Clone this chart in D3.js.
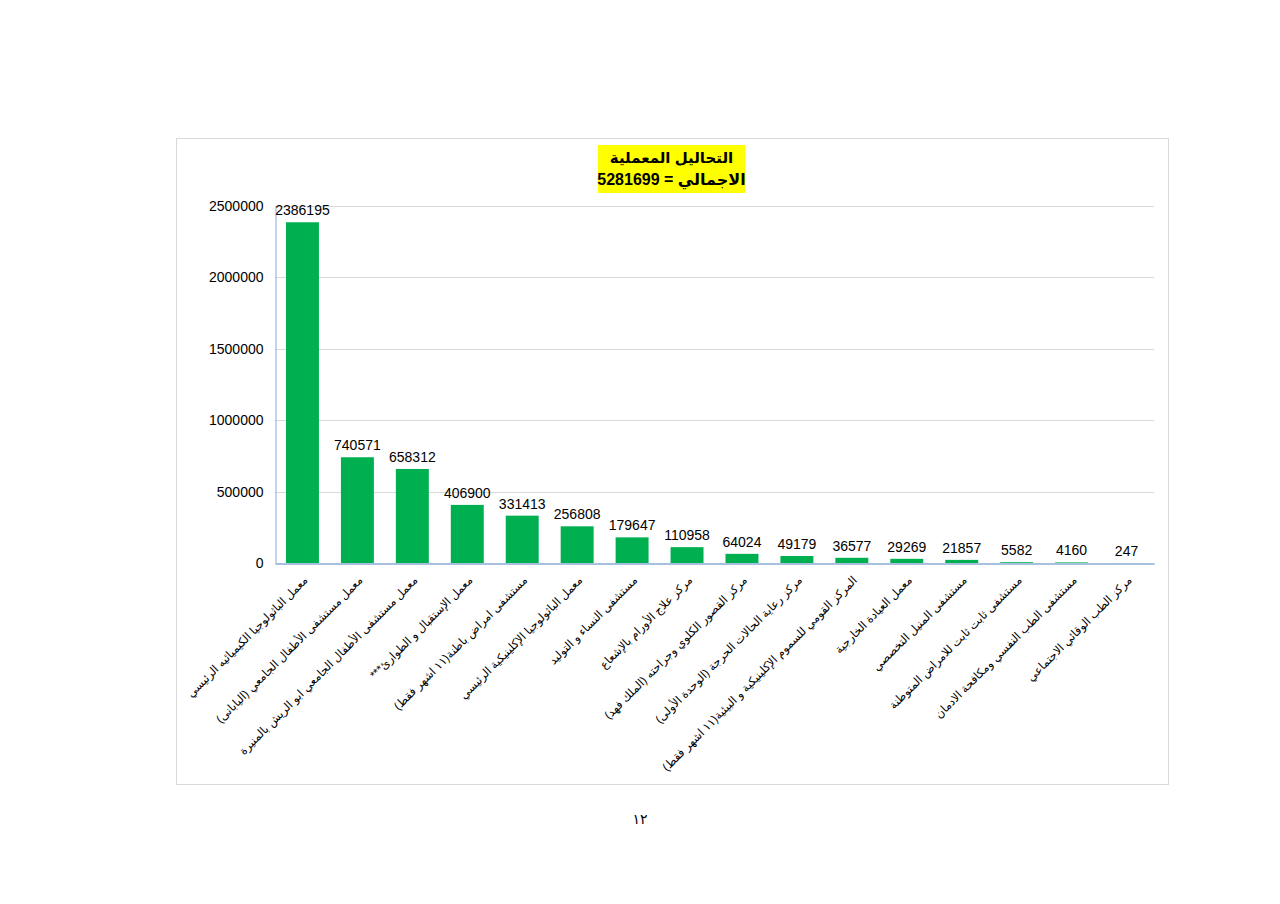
<!DOCTYPE html>
<html><head><meta charset="utf-8">
<script src="https://cdn.jsdelivr.net/npm/d3@7"></script>
<style>body{margin:0;background:#fff}</style>
</head><body>
<svg id="c" width="1280" height="904"></svg>
<script>
const categories = [
 "معمل الباثولوجيا الكيميائيه الرئيسي",
 "معمل مستشفى الأطفال الجامعي (اليابانى)",
 "معمل مستشفى الأطفال الجامعي ابو الريش بالمنيرة",
 "معمل الإستقبال و الطوارئ***",
 "مستشفى امراض باطنة(١١ اشهر فقط)",
 "معمل الباثولوجيا الإكلينيكية الرئيسي",
 "مستشفى النساء و التوليد",
 "مركز علاج الأورام بالإشعاع",
 "مركز القصور الكلوي وجراحته (الملك فهد)",
 "مركز رعاية الحالات الحرجة (الوحدة الأولى)",
 "المركز القومي للسموم الإكلينيكية و البيئية(١١ اشهر فقط)",
 "معمل العيادة الخارجية",
 "مستشفى المنيل التخصصي",
 "مستشفى ثابت ثابت للامراض المتوطنة",
 "مستشفى الطب النفسي ومكافحة الادمان",
 "مركز الطب الوقائي الاجتماعي"
];
const values = [2386195,740571,658312,406900,331413,256808,179647,110958,64024,49179,36577,29269,21857,5582,4160,247];
const yTicks = [0,500000,1000000,1500000,2000000,2500000];
const titleLines = ["التحاليل المعملية","الاجمالي = 5281699"];
const pageNumber = "١٢";

const svg = d3.select("#c");
const font = "Arial, 'Liberation Sans', 'DejaVu Sans', sans-serif";

// chart frame
svg.append("rect").attr("x",176.5).attr("y",138.5).attr("width",992).attr("height",646)
  .attr("fill","#fff").attr("stroke","#d9d9d9");

const x = d3.scaleBand().domain(categories).range([275,1154]).paddingInner(0.4).paddingOuter(0.2);
const y = d3.scaleLinear().domain([0,2500000]).range([563,206]);

// grid
svg.append("g").selectAll("line").data(yTicks.slice(1)).join("line")
  .attr("x1",275).attr("x2",1154).attr("y1",d=>Math.round(y(d))+0.5).attr("y2",d=>Math.round(y(d))+0.5)
  .attr("stroke","#d9d9d9");

// y axis
const ya = svg.append("g").attr("transform","translate(275.5,0)")
  .call(d3.axisLeft(y).tickValues(yTicks).tickFormat(d3.format("d")).tickSize(0).tickPadding(12));
ya.select(".domain").attr("stroke","#8eaadb");
ya.selectAll("text").attr("font-family",font).attr("font-size",14).attr("fill","#000");

// bars
svg.append("g").selectAll("rect").data(values).join("rect")
  .attr("x",(d,i)=>x(categories[i])).attr("width",x.bandwidth())
  .attr("y",d=>y(d)).attr("height",d=>y(0)-y(d)).attr("fill","#00b050");

// value labels
svg.append("g").selectAll("text").data(values).join("text")
  .attr("x",(d,i)=>x(categories[i])+x.bandwidth()/2).attr("y",d=>y(d)-7)
  .attr("text-anchor","middle").attr("font-family",font).attr("font-size",14).attr("fill","#000")
  .text(d=>d);

// x axis
const xa = svg.append("g").attr("transform","translate(0,563.5)")
  .call(d3.axisBottom(x).tickSize(0).tickFormat(""));
xa.select(".domain").attr("stroke","#4f81bd");

// category labels (RTL, anchored at their right/start edge)
svg.append("g").selectAll("text").data(categories).join("text")
  .attr("transform",d=>`translate(${x(d)+x.bandwidth()/2+6},${581}) rotate(-45)`)
  .attr("direction","rtl").style("unicode-bidi","embed")
  .attr("text-anchor","start").attr("font-family",font).attr("font-size",11.5).attr("fill","#000")
  .text(d=>d);

// title box
const tb = svg.append("g");
tb.append("rect").attr("x",598).attr("y",145).attr("width",147).attr("height",48).attr("fill","#ffff00");
tb.selectAll("text").data(titleLines).join("text")
  .attr("x",671.5).attr("y",(d,i)=>163+i*22).attr("text-anchor","middle")
  .attr("direction","rtl").style("unicode-bidi","embed")
  .attr("font-family",font).attr("font-weight","bold").attr("font-size",(d,i)=>i?16:15).attr("fill","#000")
  .text(d=>d);

svg.append("text").attr("x",640).attr("y",824).attr("text-anchor","middle")
  .attr("font-family",font).attr("font-size",14).text(pageNumber);
</script>
</body></html>
